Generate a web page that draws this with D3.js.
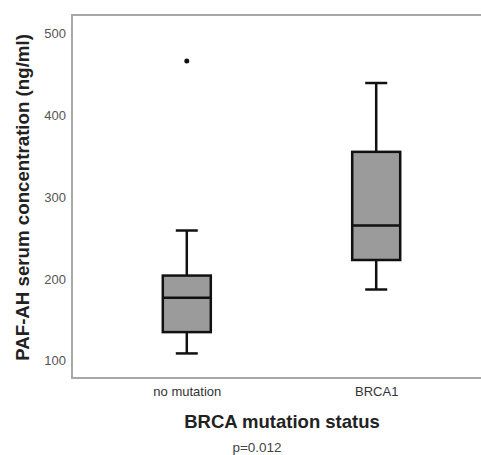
<!DOCTYPE html>
<html>
<head>
<meta charset="utf-8">
<script src="https://cdn.jsdelivr.net/npm/d3@7"></script>
<style>
  body { margin: 0; background: #fff; }
  svg { display: block; font-family: "Liberation Sans", Arial, sans-serif; }
</style>
</head>
<body>
<div class="canvas"></div>
<script>
// the data
var categories = ['no mutation', 'BRCA1'],
    whiskerLow = [109, 187],
    q1 = [135, 223],
    median = [177, 265],
    q3 = [204, 355],
    whiskerHigh = [259, 439],
    outliers = [[466], []],
    yTicks = [100, 200, 300, 400, 500];

// where does it live
var width = 481,
    height = 455,
    margin = { top: 15, left: 72 },
    plotW = 419,
    plotH = 363;

var boxW = 48,
    capW = 22;

var svg = d3.select('.canvas').append('svg')
    .attr('width', width)
    .attr('height', height);

var x = d3.scalePoint()
    .domain(categories)
    .range([0, plotW])
    .padding(0.606);

var y = d3.scaleLinear()
    .domain([79, 522])
    .range([plotH, 0]);

var g = svg.append('g')
    .attr('transform', 'translate(' + margin.left + ',' + margin.top + ')');

// frame
g.append('rect')
    .attr('x', 0)
    .attr('y', 0)
    .attr('width', plotW)
    .attr('height', plotH)
    .attr('fill', 'none')
    .attr('stroke', '#a8a8a8')
    .attr('stroke-width', 2);

// y axis labels
var yAxis = d3.axisLeft(y).tickValues(yTicks).tickSize(0).tickPadding(6);
var ya = g.append('g').call(yAxis);
ya.select('.domain').remove();
ya.selectAll('text')
    .attr('fill', '#555')
    .style('font-size', '13px')
    .style('font-family', '"Liberation Sans", Arial, sans-serif');

// x axis labels
var xAxis = d3.axisBottom(x).tickSize(0).tickPadding(9);
var xa = g.append('g').attr('transform', 'translate(0,' + plotH + ')').call(xAxis);
xa.select('.domain').remove();
xa.selectAll('text')
    .attr('fill', '#333')
    .style('font-size', '13px')
    .style('font-family', '"Liberation Sans", Arial, sans-serif');

// boxes
var data = categories.map(function (c, i) {
    return {
        cat: c,
        lo: whiskerLow[i],
        q1: q1[i],
        med: median[i],
        q3: q3[i],
        hi: whiskerHigh[i],
        out: outliers[i]
    };
});

var box = g.selectAll('.box')
    .data(data)
    .enter()
    .append('g')
    .attr('class', 'box')
    .attr('transform', function (d) { return 'translate(' + x(d.cat) + ',0)'; });

// whiskers
box.append('line')
    .attr('x1', 0).attr('x2', 0)
    .attr('y1', function (d) { return y(d.hi); })
    .attr('y2', function (d) { return y(d.q3); })
    .attr('stroke', '#111').attr('stroke-width', 2.5);
box.append('line')
    .attr('x1', 0).attr('x2', 0)
    .attr('y1', function (d) { return y(d.q1); })
    .attr('y2', function (d) { return y(d.lo); })
    .attr('stroke', '#111').attr('stroke-width', 2.5);
box.append('line')
    .attr('x1', -capW / 2).attr('x2', capW / 2)
    .attr('y1', function (d) { return y(d.hi); })
    .attr('y2', function (d) { return y(d.hi); })
    .attr('stroke', '#111').attr('stroke-width', 2.5);
box.append('line')
    .attr('x1', -capW / 2).attr('x2', capW / 2)
    .attr('y1', function (d) { return y(d.lo); })
    .attr('y2', function (d) { return y(d.lo); })
    .attr('stroke', '#111').attr('stroke-width', 2.5);

// box body
box.append('rect')
    .attr('x', -boxW / 2)
    .attr('width', boxW)
    .attr('y', function (d) { return y(d.q3); })
    .attr('height', function (d) { return y(d.q1) - y(d.q3); })
    .attr('fill', '#9b9b9b')
    .attr('stroke', '#111')
    .attr('stroke-width', 2.5);

// median
box.append('line')
    .attr('x1', -boxW / 2).attr('x2', boxW / 2)
    .attr('y1', function (d) { return y(d.med); })
    .attr('y2', function (d) { return y(d.med); })
    .attr('stroke', '#111').attr('stroke-width', 2.5);

// outliers
box.selectAll('circle')
    .data(function (d) { return d.out; })
    .enter()
    .append('circle')
    .attr('cx', 0)
    .attr('cy', function (v) { return y(v); })
    .attr('r', 2.5)
    .attr('fill', '#111');

// titles
svg.append('text')
    .attr('transform', 'translate(29,' + (margin.top + plotH / 2 + 1) + ') rotate(-90)')
    .attr('text-anchor', 'middle')
    .style('font-size', '18.7px')
    .style('font-weight', 'bold')
    .attr('fill', '#222')
    .text('PAF-AH serum concentration (ng/ml)');

svg.append('text')
    .attr('x', 282)
    .attr('y', 428)
    .attr('text-anchor', 'middle')
    .style('font-size', '18.5px')
    .style('font-weight', 'bold')
    .attr('fill', '#222')
    .text('BRCA mutation status');

svg.append('text')
    .attr('x', 257)
    .attr('y', 452)
    .attr('text-anchor', 'middle')
    .style('font-size', '13.5px')
    .attr('fill', '#444')
    .text('p=0.012');
</script>
</body>
</html>
